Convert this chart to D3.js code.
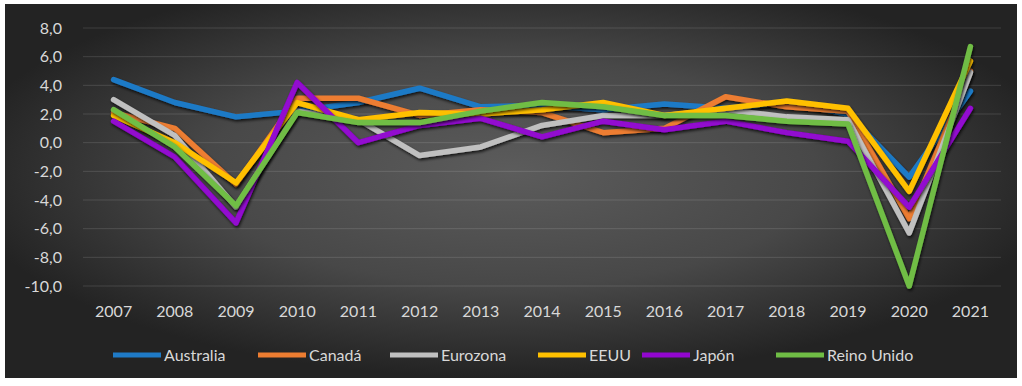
<!DOCTYPE html>
<html><head><meta charset="utf-8">
<script src="https://cdn.jsdelivr.net/npm/d3@7"></script>
<style>html,body{margin:0;padding:0;background:#fff}svg{display:block}</style>
</head><body><svg id="c" width="1022" height="386"></svg>
<script>
const years = ["2007","2008","2009","2010","2011","2012","2013","2014","2015","2016","2017","2018","2019","2020","2021"];
const yTicks = [8,6,4,2,0,-2,-4,-6,-8,-10];
const seriesNames = ["Australia","Canadá","Eurozona","EEUU","Japón","Reino Unido"];
const australia = [4.4,2.8,1.8,2.2,2.8,3.8,2.5,2.6,2.3,2.7,2.4,2.8,2.0,-2.4,3.6];
const canada    = [2.1,1.0,-2.9,3.1,3.1,1.9,2.3,2.1,0.7,1.0,3.2,2.5,2.2,-5.3,5.0];
const eurozona  = [3.0,0.5,-4.5,2.2,1.6,-0.9,-0.3,1.2,1.9,1.9,2.3,1.8,1.6,-6.3,4.9];
const eeuu      = [1.9,0.0,-2.8,2.8,1.6,2.1,2.0,2.3,2.8,1.9,2.4,2.9,2.4,-3.4,5.7];
const japon     = [1.5,-1.0,-5.6,4.2,0.0,1.2,1.7,0.4,1.5,0.9,1.5,0.7,0.1,-4.5,2.4];
const reinoUnido= [2.3,-0.3,-4.4,2.1,1.4,1.4,2.2,2.8,2.5,1.9,1.9,1.5,1.3,-10.0,6.7];
const seriesValues = [australia,canada,eurozona,eeuu,japon,reinoUnido];
const colors = ["#1f7ac6","#ed7d31","#c0c0c0","#ffc000","#9207cf","#6fbd45"];

const svg = d3.select("#c");
const defs = svg.append("defs");
const rg = defs.append("radialGradient").attr("id","bg").attr("cx","0.5").attr("cy","0.45").attr("r","0.55");
rg.append("stop").attr("offset","0").attr("stop-color","#5c5c5c");
rg.append("stop").attr("offset","0.55").attr("stop-color","#484848");
rg.append("stop").attr("offset","1").attr("stop-color","#232323");
const f = defs.append("filter").attr("id","sh").attr("x","-10%").attr("y","-10%").attr("width","120%").attr("height","130%");
f.append("feDropShadow").attr("dx",1).attr("dy",2).attr("stdDeviation",1.6).attr("flood-color","#000").attr("flood-opacity",0.75);

svg.append("rect").attr("x",5).attr("y",4).attr("width",1012).attr("height",374).attr("fill","url(#bg)");

const x = d3.scaleBand().domain(years).range([83,1001]);
const y = d3.scaleLinear().domain([-10,8]).range([286,28]);
const font = "Lato, 'Open Sans', sans-serif";

// grid
svg.append("g").selectAll("line").data(yTicks).join("line")
  .attr("x1",83).attr("x2",1001).attr("y1",d=>y(d)).attr("y2",d=>y(d))
  .attr("stroke","rgba(255,255,255,0.13)").attr("stroke-width",1);

// y axis
const yAxis = svg.append("g").attr("transform","translate(65,0)")
  .call(d3.axisLeft(y).tickValues(yTicks).tickSize(0).tickPadding(3).tickFormat(d=>d3.format(".1f")(d).replace(".",",").replace("−","-")));
yAxis.select(".domain").remove();
yAxis.selectAll("text").attr("fill","#d8d8d8").style("font-family",font).style("font-size","16px");

// x axis
const xAxis = svg.append("g").attr("transform","translate(0,306)")
  .call(d3.axisBottom(x).tickSize(0).tickPadding(0));
xAxis.select(".domain").remove();
xAxis.selectAll("text").attr("fill","#d8d8d8").style("font-family",font).style("font-size","16px");

// lines
const line = d3.line().x((d,i)=>x(years[i])+x.bandwidth()/2).y(d=>y(d));
svg.append("g").selectAll("path").data(seriesValues).join("path")
  .attr("d",line).attr("fill","none").attr("stroke",(d,i)=>colors[i])
  .attr("stroke-width",5.5).attr("stroke-linejoin","round").attr("stroke-linecap","round")
  .attr("filter","url(#sh)");

// legend
const legX = [113,258,390,538,642,776];
const lg = svg.append("g").selectAll("g").data(seriesNames).join("g")
  .attr("transform",(d,i)=>`translate(${legX[i]},355)`);
lg.append("line").attr("x1",0).attr("x2",48).attr("y1",0).attr("y2",0)
  .attr("stroke",(d,i)=>colors[i]).attr("stroke-width",5);
lg.append("text").attr("x",51).attr("y",0).attr("dy","0.35em").text(d=>d)
  .attr("fill","#d8d8d8").style("font-family",font).style("font-size","16px");
</script></body></html>
